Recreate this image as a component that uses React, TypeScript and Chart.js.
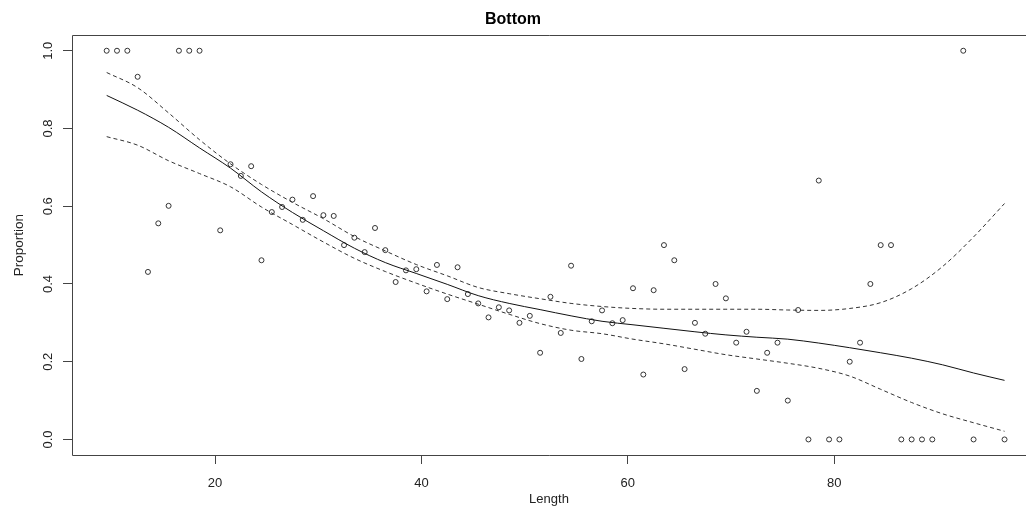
import React, { useEffect, useRef } from "react";
import { Chart, registerables } from "chart.js";

Chart.register(...registerables);

// Observed proportions by length
const pointLengths = [
  9.5, 10.5, 11.5, 12.5, 13.5, 14.5, 15.5, 16.5, 17.5, 18.5,
  20.5, 21.5, 22.5, 23.5, 24.5, 25.5, 26.5, 27.5, 28.5, 29.5,
  30.5, 31.5, 32.5, 33.5, 34.5, 35.5, 36.5, 37.5, 38.5, 39.5,
  40.5, 41.5, 42.5, 43.5, 44.5, 45.5, 46.5, 47.5, 48.5, 49.5,
  50.5, 51.5, 52.5, 53.5, 54.5, 55.5, 56.5, 57.5, 58.5, 59.5,
  60.5, 61.5, 62.5, 63.5, 64.5, 65.5, 66.5, 67.5, 68.5, 69.5,
  70.5, 71.5, 72.5, 73.5, 74.5, 75.5, 76.5, 77.5, 78.5, 79.5,
  80.5, 81.5, 82.5, 83.5, 84.5, 85.5, 86.5, 87.5, 88.5, 89.5,
  92.5, 93.5, 96.5,
];
const pointProportions = [
  1.0, 1.0, 1.0, 0.933, 0.431, 0.556, 0.601, 1.0, 1.0, 1.0,
  0.538, 0.708, 0.678, 0.703, 0.461, 0.585, 0.598, 0.617, 0.565, 0.626,
  0.577, 0.575, 0.5, 0.519, 0.482, 0.544, 0.487, 0.405, 0.435, 0.438,
  0.381, 0.449, 0.361, 0.443, 0.374, 0.35, 0.314, 0.34, 0.332, 0.3,
  0.318, 0.223, 0.367, 0.274, 0.447, 0.207, 0.304, 0.332, 0.299, 0.307,
  0.389, 0.167, 0.384, 0.5, 0.461, 0.181, 0.3, 0.272, 0.4, 0.363,
  0.249, 0.277, 0.125, 0.223, 0.249, 0.1, 0.333, 0.0, 0.666, 0.0,
  0.0, 0.2, 0.249, 0.4, 0.5, 0.5, 0.0, 0.0, 0.0, 0.0,
  1.0, 0.0, 0.0,
];

// Fitted curve and confidence band
const fitLengths = [
  9.5, 12.5, 15.5, 18.5, 21.5, 24.5, 27.5, 30.5, 33.5, 36.5,
  39.5, 42.5, 45.5, 48.5, 51.5, 54.5, 57.5, 60.5, 63.5, 66.5,
  69.5, 72.5, 75.5, 78.5, 81.5, 84.5, 87.5, 90.5, 93.5, 96.5,
];
const fitValues = [
  0.885, 0.847, 0.803, 0.75, 0.698, 0.637, 0.584, 0.537, 0.492, 0.455,
  0.427, 0.399, 0.37, 0.35, 0.334, 0.318, 0.304, 0.295, 0.286, 0.277,
  0.269, 0.263, 0.258, 0.248, 0.236, 0.223, 0.209, 0.192, 0.171, 0.152,
];
const upperValues = [
  0.944, 0.905, 0.84, 0.771, 0.709, 0.656, 0.61, 0.568, 0.522, 0.485,
  0.45, 0.421, 0.391, 0.375, 0.362, 0.35, 0.342, 0.337, 0.335, 0.335,
  0.335, 0.335, 0.333, 0.332, 0.337, 0.352, 0.388, 0.445, 0.521, 0.607,
];
const lowerValues = [
  0.779, 0.757, 0.717, 0.684, 0.65, 0.598, 0.553, 0.508, 0.466, 0.432,
  0.402, 0.374, 0.348, 0.322, 0.298, 0.281, 0.272, 0.258, 0.246, 0.232,
  0.218, 0.207, 0.196, 0.183, 0.163, 0.129, 0.095, 0.066, 0.043, 0.021,
];

const xTicks = [20, 40, 60, 80];
const yTicks = [0, 0.2, 0.4, 0.6, 0.8, 1.0];

const FONT = "'Liberation Sans', Arial, sans-serif";

const boxPlugin = {
  id: "rbox",
  afterDraw(chart: any) {
    const { ctx, chartArea } = chart;
    const { left, top, bottom } = chartArea;
    const right = chart.width + 2;
    ctx.save();
    ctx.strokeStyle = "#444";
    ctx.lineWidth = 1;
    ctx.beginPath();
    ctx.moveTo(right, Math.round(top) + 0.5);
    ctx.lineTo(Math.round(left) + 0.5, Math.round(top) + 0.5);
    ctx.lineTo(Math.round(left) + 0.5, Math.round(bottom) + 0.5);
    ctx.lineTo(right, Math.round(bottom) + 0.5);
    ctx.stroke();
    ctx.restore();
  },
};

export default function App() {
  const ref = useRef<HTMLCanvasElement | null>(null);

  useEffect(() => {
    if (!ref.current) return;
    const pts = pointLengths.map((x, i) => ({ x, y: pointProportions[i] }));
    const mk = (vals: number[]) => fitLengths.map((x, i) => ({ x, y: vals[i] }));
    const lineBase = {
      type: "line",
      borderWidth: 1,
      pointRadius: 0,
      cubicInterpolationMode: "monotone",
    };

    const chart = new Chart(ref.current, {
      type: "scatter",
      data: {
        datasets: [
          { ...lineBase, data: mk(fitValues), borderColor: "#111" } as any,
          { ...lineBase, data: mk(upperValues), borderColor: "#333", borderDash: [4, 3] } as any,
          { ...lineBase, data: mk(lowerValues), borderColor: "#333", borderDash: [4, 3] } as any,
          {
            type: "scatter",
            data: pts,
            pointStyle: "circle",
            pointRadius: 2.5,
            borderWidth: 1,
            borderColor: "#333",
            backgroundColor: "rgba(0,0,0,0)",
          },
        ],
      },
      options: {
        animation: false,
        responsive: true,
        maintainAspectRatio: false,
        events: [],
        layout: { padding: 0, autoPadding: false },
        plugins: {
          legend: { display: false },
          tooltip: { enabled: false },
          title: {
            display: true,
            text: "Bottom",
            color: "#000",
            font: { family: FONT, size: 16, weight: "bold" },
            padding: { top: 10, bottom: 6 },
          },
        },
        scales: {
          x: {
            type: "linear",
            min: 6.14,
            max: 98.58,
            afterBuildTicks: (s: any) => {
              s.ticks = xTicks.map((v) => ({ value: v }));
            },
            afterFit: (s: any) => {
              s.height = 53;
            },
            border: { display: false },
            grid: {
              display: true,
              drawOnChartArea: false,
              drawTicks: true,
              tickLength: 9,
              color: "#444",
            },
            ticks: {
              color: "#222",
              font: { family: FONT, size: 13 },
              padding: 12,
              maxRotation: 0,
              autoSkip: false,
              callback: (v: any) => String(v),
            },
            title: {
              display: true,
              text: "Length",
              color: "#222",
              font: { family: FONT, size: 13 },
              padding: { top: 0, bottom: 1 },
            },
          },
          y: {
            type: "linear",
            min: -0.04,
            max: 1.04,
            afterBuildTicks: (s: any) => {
              s.ticks = yTicks.map((v) => ({ value: v }));
            },
            afterFit: (s: any) => {
              s.width = 72;
            },
            border: { display: false },
            grid: {
              display: true,
              drawOnChartArea: false,
              drawTicks: true,
              tickLength: 9,
              color: "#444",
            },
            ticks: {
              color: "#222",
              font: { family: FONT, size: 13 },
              padding: 6,
              minRotation: 90,
              maxRotation: 90,
              crossAlign: "center",
              autoSkip: false,
              callback: (v: any) => Number(v).toFixed(1),
            },
            title: {
              display: true,
              text: "Proportion",
              color: "#222",
              font: { family: FONT, size: 13.5 },
              padding: { top: 11, bottom: 0 },
            },
          },
        },
      },
      plugins: [boxPlugin],
    });
    return () => chart.destroy();
  }, []);

  return (
    <div
      style={{
        position: "fixed",
        left: 0,
        top: 0,
        width: 1026,
        height: 508,
        background: "#fff",
      }}
    >
      <canvas ref={ref} />
    </div>
  );
}
